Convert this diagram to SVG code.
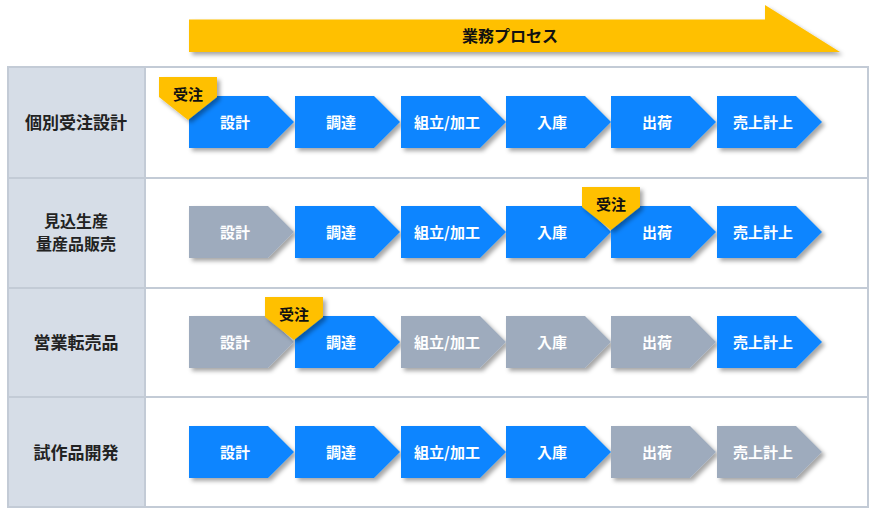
<svg xmlns="http://www.w3.org/2000/svg" width="880" height="521" viewBox="0 0 880 521">
<defs>
<filter id="sh" x="-10%" y="-10%" width="130%" height="140%">
<feDropShadow dx="3" dy="3" stdDeviation="2" flood-color="#000" flood-opacity="0.35"/>
</filter>
<path id="chev" d="M0,0 h79 l26,26 l-26,26 h-79 z"/>
<path id="tag" d="M0,0 h58 v20 l-29,23 l-29,-23 z"/>
</defs>
<style>
text{font-family:"Noto Sans CJK JP","Noto Sans CJK SC",sans-serif;font-weight:bold;text-anchor:middle}
.b{fill:#0a85ff}
.g{fill:#9eabbd}
.ct{fill:#fff;font-size:15px}
.lt{fill:#222;font-size:17px}
.lt2{fill:#222;font-size:16px}
.tt{fill:#111;font-size:15px}
.hd{fill:#111;font-size:16px}
.y{fill:#ffc000}
.cell{fill:#fff;stroke:#c3cbd6;stroke-width:2}
.lc{fill:#d6dde7;stroke:#c3cbd6;stroke-width:2}
</style>
<g id="header">
<polygon class="y" filter="url(#sh)" points="189,19.5 765,19.5 765,5 840,52 189,52"/>
<text x="510" y="42" class="hd">業務プロセス</text>
</g>
<g id="table">
<rect class="cell" x="145" y="67" width="723" height="111"/>
<rect class="cell" x="145" y="178" width="723" height="110"/>
<rect class="cell" x="145" y="288" width="723" height="109"/>
<rect class="cell" x="145" y="397" width="723" height="110"/>
<rect class="lc" x="8" y="67" width="137" height="111"/>
<rect class="lc" x="8" y="178" width="137" height="110"/>
<rect class="lc" x="8" y="288" width="137" height="109"/>
<rect class="lc" x="8" y="397" width="137" height="110"/>
<text class="lt" x="76" y="129">個別受注設計</text>
<text class="lt2" x="76" y="226.5">見込生産</text>
<text class="lt2" x="76" y="250">量産品販売</text>
<text class="lt" x="76" y="349">営業転売品</text>
<text class="lt" x="76" y="459">試作品開発</text>
</g>
<g id="row1">
<g filter="url(#sh)">
<use href="#chev" class="b" x="189" y="96"/><use href="#chev" class="b" x="295" y="96"/><use href="#chev" class="b" x="401" y="96"/><use href="#chev" class="b" x="506" y="96"/><use href="#chev" class="b" x="611" y="96"/><use href="#chev" class="b" x="717" y="96"/>
</g>
<text class="ct" x="235" y="127.5">設計</text><text class="ct" x="341" y="127.5">調達</text><text class="ct" x="447" y="127.5">組立/加工</text><text class="ct" x="552" y="127.5">入庫</text><text class="ct" x="657" y="127.5">出荷</text><text class="ct" x="763" y="127.5">売上計上</text>
<use href="#tag" class="y" x="159" y="77" filter="url(#sh)"/>
<text class="tt" x="188" y="99.5">受注</text>
</g>
<g id="row2">
<g filter="url(#sh)">
<use href="#chev" class="g" x="189" y="206"/><use href="#chev" class="b" x="295" y="206"/><use href="#chev" class="b" x="401" y="206"/><use href="#chev" class="b" x="506" y="206"/><use href="#chev" class="b" x="611" y="206"/><use href="#chev" class="b" x="717" y="206"/>
</g>
<text class="ct" x="235" y="237.5">設計</text><text class="ct" x="341" y="237.5">調達</text><text class="ct" x="447" y="237.5">組立/加工</text><text class="ct" x="552" y="237.5">入庫</text><text class="ct" x="657" y="237.5">出荷</text><text class="ct" x="763" y="237.5">売上計上</text>
<use href="#tag" class="y" x="582" y="187" filter="url(#sh)"/>
<text class="tt" x="611" y="209.5">受注</text>
</g>
<g id="row3">
<g filter="url(#sh)">
<use href="#chev" class="g" x="189" y="316"/><use href="#chev" class="b" x="295" y="316"/><use href="#chev" class="g" x="401" y="316"/><use href="#chev" class="g" x="506" y="316"/><use href="#chev" class="g" x="611" y="316"/><use href="#chev" class="b" x="717" y="316"/>
</g>
<text class="ct" x="235" y="347.5">設計</text><text class="ct" x="341" y="347.5">調達</text><text class="ct" x="447" y="347.5">組立/加工</text><text class="ct" x="552" y="347.5">入庫</text><text class="ct" x="657" y="347.5">出荷</text><text class="ct" x="763" y="347.5">売上計上</text>
<use href="#tag" class="y" x="265" y="297" filter="url(#sh)"/>
<text class="tt" x="294" y="319.5">受注</text>
</g>
<g id="row4">
<g filter="url(#sh)">
<use href="#chev" class="b" x="189" y="426"/><use href="#chev" class="b" x="295" y="426"/><use href="#chev" class="b" x="401" y="426"/><use href="#chev" class="b" x="506" y="426"/><use href="#chev" class="g" x="611" y="426"/><use href="#chev" class="g" x="717" y="426"/>
</g>
<text class="ct" x="235" y="457.5">設計</text><text class="ct" x="341" y="457.5">調達</text><text class="ct" x="447" y="457.5">組立/加工</text><text class="ct" x="552" y="457.5">入庫</text><text class="ct" x="657" y="457.5">出荷</text><text class="ct" x="763" y="457.5">売上計上</text>
</g>
<g id="connectors"/>
</svg>
